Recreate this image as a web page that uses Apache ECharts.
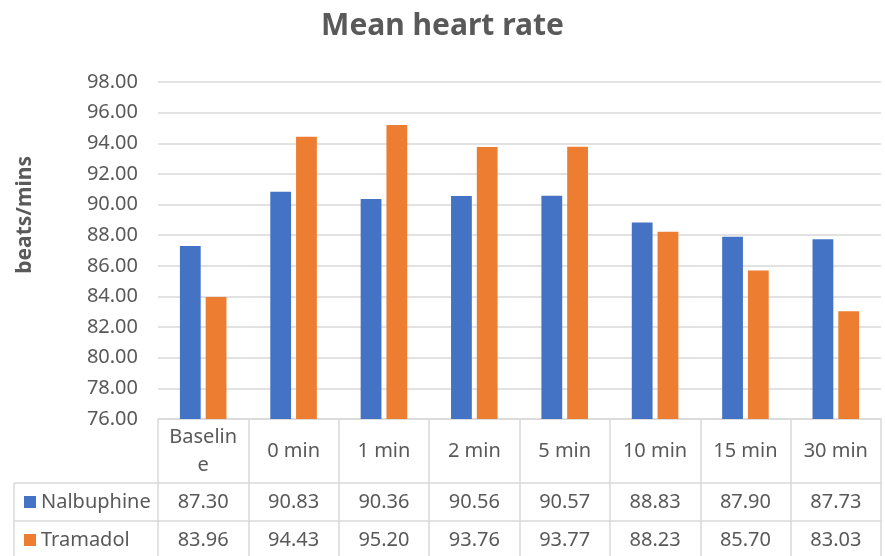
<!DOCTYPE html>
<html>
<head>
<meta charset="utf-8">
<script src="https://cdn.jsdelivr.net/npm/echarts@6/dist/echarts.min.js"></script>
<style>
  html, body { margin: 0; padding: 0; background: #fff; }
  #chart { width: 885px; height: 556px; }
</style>
</head>
<body>
<div id="chart"></div>
<script>
const categories = ['Baseline', '0 min', '1 min', '2 min', '5 min', '10 min', '15 min', '30 min']
const nalbuphine = [87.30, 90.83, 90.36, 90.56, 90.57, 88.83, 87.90, 87.73]
const tramadol = [83.96, 94.43, 95.20, 93.76, 93.77, 88.23, 85.70, 83.03]
const yMin = 76
const yMax = 98
const yStep = 2

const textColor = '#595959'
const lineColor = '#d9d9d9'
const font = 'Noto Sans'

const chart = echarts.init(document.getElementById('chart'))

// one extra x axis per table row, it only shows the values as labels
function rowAxis(values, offset) {
  return {
    type: 'category',
    data: categories,
    position: 'bottom',
    offset: offset,
    axisLine: { show: true, lineStyle: { color: lineColor, width: 1.5 } },
    axisTick: { show: false },
    axisLabel: {
      margin: 7,
      color: textColor,
      fontFamily: font,
      fontSize: 20,
      lineHeight: 24,
      interval: 0,
      formatter: (v, i) => values[i].toFixed(2),
    },
  }
}

function legendRow(name, top) {
  return {
    orient: 'vertical',
    left: 24,
    top: top,
    padding: 0,
    itemWidth: 12,
    itemHeight: 12,
    icon: 'rect',
    textStyle: { color: textColor, fontFamily: font, fontSize: 20, lineHeight: 24 },
    data: [name],
  }
}

const option = {
  animation: false,
  title: {
    text: 'Mean heart rate',
    left: 'center',
    top: 6,
    textStyle: { color: textColor, fontFamily: font, fontSize: 30, fontWeight: 'bold' },
  },
  legend: [legendRow('Nalbuphine', 490), legendRow('Tramadol', 528)],
  grid: { left: 158, right: 4, top: 82, bottom: 137, containLabel: false },
  xAxis: [
    {
      type: 'category',
      data: categories,
      position: 'bottom',
      axisLine: { show: true, lineStyle: { color: lineColor, width: 1.5 } },
      axisTick: { show: true, length: 140, lineStyle: { color: lineColor, width: 1.5 } },
      axisLabel: {
        margin: 32,
        verticalAlign: 'middle',
        color: textColor,
        fontFamily: font,
        fontSize: 20,
        width: 70,
        overflow: 'breakAll',
        lineHeight: 28,
        interval: 0,
      },
    },
    rowAxis(nalbuphine, 64),
    rowAxis(tramadol, 102),
  ],
  yAxis: {
    type: 'value',
    min: yMin,
    max: yMax,
    interval: yStep,
    axisLine: { show: false },
    axisTick: { show: false },
    splitLine: { lineStyle: { color: lineColor, width: 1.5 } },
    axisLabel: {
      margin: 20,
      color: textColor,
      fontFamily: font,
      fontSize: 20,
      formatter: (v) => v.toFixed(2),
    },
  },
  series: [
    {
      name: 'Nalbuphine',
      type: 'bar',
      data: nalbuphine,
      barWidth: '23%',
      barGap: '24%',
      itemStyle: { color: '#4472C4' },
    },
    {
      name: 'Tramadol',
      type: 'bar',
      data: tramadol,
      barWidth: '23%',
      itemStyle: { color: '#ED7D31' },
    },
  ],
  graphic: [
    {
      type: 'text',
      left: 15,
      top: 156,
      rotation: Math.PI / 2,
      style: {
        text: 'beats/mins',
        fill: textColor,
        font: 'bold 21px "Noto Sans"',
      },
    },
    // left part of the table (legend column)
    { type: 'line', shape: { x1: 14, y1: 483, x2: 158, y2: 483 }, style: { stroke: lineColor, lineWidth: 1.5 } },
    { type: 'line', shape: { x1: 14, y1: 521, x2: 158, y2: 521 }, style: { stroke: lineColor, lineWidth: 1.5 } },
    { type: 'line', shape: { x1: 14, y1: 483, x2: 14, y2: 556 }, style: { stroke: lineColor, lineWidth: 1.5 } },
  ],
}

chart.setOption(option)
</script>
</body>
</html>
